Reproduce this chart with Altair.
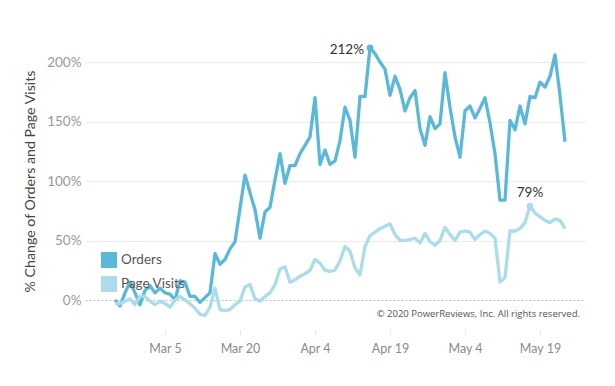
import altair as alt
import pandas as pd

start_date = "2020-02-24"
series_names = ["Orders", "Page Visits"]
series_colors = ["#5ab8d8", "#aadcec"]

orders = [0, -5, 6, 15, 6, -4, 8, 12, 6, 10, 6, 5, 0, 16, 15, 3, 3, -2, 2, 6,
          39, 30, 34, 43, 49, 77, 105, 90, 76, 52, 74, 78, 101, 123,
          98, 113, 113, 123, 130, 137, 170, 114, 126, 114, 117, 134, 162, 151, 120, 171, 171,
          212, 207, 200, 194, 172, 188, 177, 159, 170, 176, 144, 130, 154, 144, 148,
          191, 162, 137, 120, 159, 163, 153, 161, 170, 149, 123, 84, 84, 151, 143,
          163, 148, 171, 170, 183, 179, 188, 206, 172, 133]

page_visits = [-3, -3, -1, 1, -4, 3, 3, -1, -4, -1, -3, -6, 0, 3, 0, -3, -7, -12, -13, -6,
               10, -8, -9, -8, -4, -1, 11, 13, 1, -1, 3, 6, 13, 26, 28, 15, 17, 20, 22, 25,
               34, 31, 25, 24, 25, 33, 45,
               41, 27, 21, 45, 54, 57, 60, 62, 64, 55, 50, 50, 51, 52, 48, 56, 49, 46, 50, 61,
               55, 50, 57, 58, 57, 51, 55, 58, 56, 52, 15, 19, 58, 58, 60, 65, 79, 73, 70, 67,
               65, 68, 67, 60]

x_tick_dates = [(2020, 3, 5), (2020, 3, 20), (2020, 4, 4), (2020, 4, 19), (2020, 5, 4), (2020, 5, 19)]
x_domain = [(2020, 2, 18), (2020, 5, 28)]
y_ticks = [0, 50, 100, 150, 200]
y_domain = [-25.2, 218.5]
y_title = "% Change of Orders and Page Visits"
copyright_text = "© 2020 PowerReviews, Inc. All rights reserved."

dates = list(pd.date_range(start_date, periods=len(orders)).strftime("%Y-%m-%dT00:00:00"))
df = pd.DataFrame({
    "date": dates * 2,
    "value": orders + page_visits,
    "series": [series_names[0]] * len(orders) + [series_names[1]] * len(page_visits),
})

i_o = orders.index(max(orders))
i_v = page_visits.index(max(page_visits))
ann_o = pd.DataFrame({"date": [dates[i_o]], "value": [orders[i_o]], "label": [f"{orders[i_o]}%"], "series": [series_names[0]]})
ann_v = pd.DataFrame({"date": [dates[i_v]], "value": [page_visits[i_v]], "label": [f"{page_visits[i_v]}%"], "series": [series_names[1]]})

def dt(t):
    return alt.DateTime(year=t[0], month=t[1], date=t[2])

x_enc = alt.X("date:T",
              scale=alt.Scale(domain=[dt(x_domain[0]), dt(x_domain[1])]),
              axis=alt.Axis(values=[dt(t) for t in x_tick_dates], format="%b %-d", title=None,
                            grid=False, domain=False, tickColor="#e6e6e6", tickSize=5,
                            labelPadding=7, labelColor="#8a8a8a", labelFontSize=12.5,
                            labelFont="Lato"))
y_enc = alt.Y("value:Q",
              scale=alt.Scale(domain=y_domain, nice=False, zero=False),
              axis=alt.Axis(values=y_ticks, labelExpr="datum.value + '%'", title=y_title,
                            domain=False, ticks=False, labelPadding=4,
                            labelColor="#999999", labelFontSize=13.5, labelFont="Lato",
                            titleFont="Lato", titleFontSize=14.2, titleFontWeight="normal",
                            titleColor="#444444", titleX=-55, titleY=141,
                            titleAngle=270, titleAlign="center", titleBaseline="middle",
                            gridColor=alt.condition("datum.value == 0", alt.value("#bdbdbd"), alt.value("#ececec")),
                            gridDash=alt.condition("datum.value == 0", alt.value([2, 2]), alt.value([])),
                            gridWidth=1.2))

color_enc = alt.Color("series:N",
                      scale=alt.Scale(domain=series_names, range=series_colors),
                      legend=alt.Legend(title=None, orient="none", legendX=16, legendY=212,
                                        symbolType="square", symbolSize=64, symbolStrokeWidth=8,
                                        labelFontSize=13.5, labelColor="#555555", labelFont="Lato",
                                        labelOffset=4, rowPadding=8, clipHeight=16, padding=0))

lines = alt.Chart(df).mark_line(strokeWidth=3.3, strokeJoin="round").encode(
    x=x_enc, y=y_enc, color=color_enc, order=alt.Order("series:N"))

dots_o = alt.Chart(ann_o).mark_circle(size=45, opacity=1, color=series_colors[0]).encode(x="date:T", y="value:Q")
dots_v = alt.Chart(ann_v).mark_circle(size=45, opacity=1, color=series_colors[1]).encode(x="date:T", y="value:Q")
text_o = alt.Chart(ann_o).mark_text(align="right", baseline="middle", dx=-6, dy=2, fontSize=13.5,
                                    font="Lato", color="#333333").encode(x="date:T", y="value:Q", text="label:N")
text_v = alt.Chart(ann_v).mark_text(align="center", baseline="middle", dy=-13, fontSize=13.5,
                                    font="Lato", color="#333333").encode(x="date:T", y="value:Q", text="label:N")

copy = alt.Chart(pd.DataFrame({"t": [copyright_text]})).mark_text(
    align="right", baseline="middle", fontSize=9.5, font="Open Sans", color="#555555").encode(
    text="t:N", x=alt.value(495), y=alt.value(274))

chart = alt.layer(lines, dots_o, dots_v, text_o, text_v, copy).properties(
    width=500, height=290,
    autosize=alt.AutoSizeParams(type="none"),
    padding={"left": 77, "top": 32, "right": 22, "bottom": 48},
).configure(background="white").configure_view(stroke=None)

chart.save("out.html", embed_options={"renderer": "svg", "actions": False})
